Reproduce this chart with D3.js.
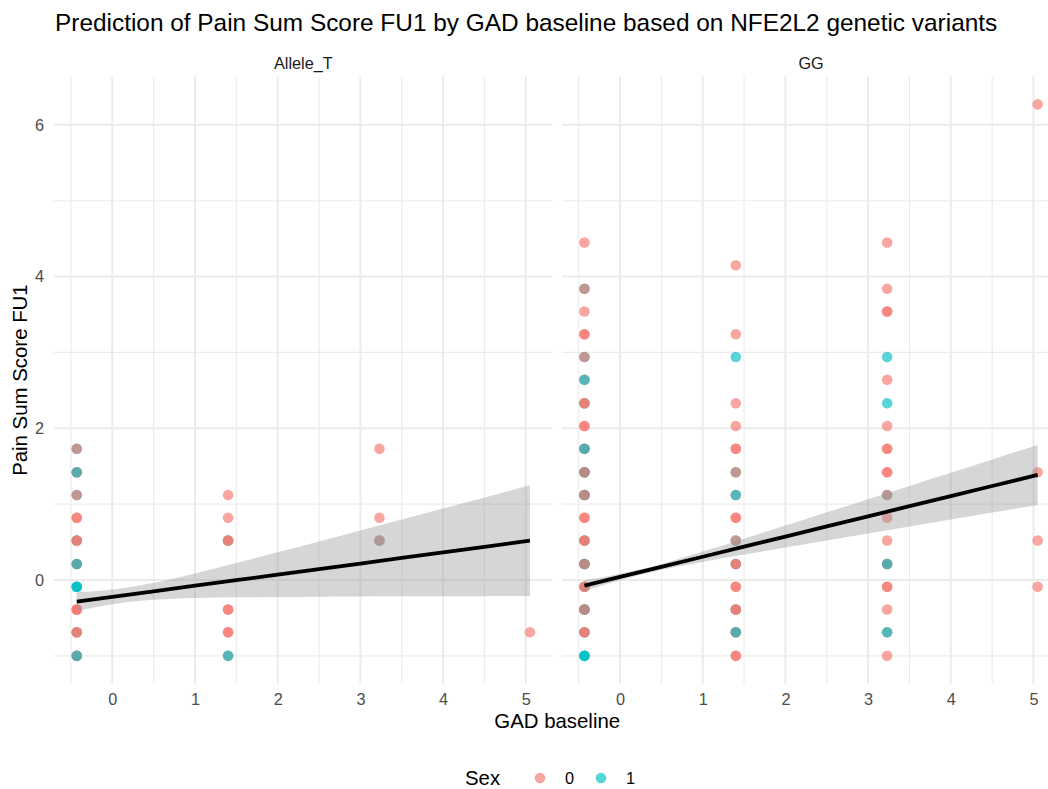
<!DOCTYPE html>
<html>
<head>
<meta charset="utf-8">
<script src="https://cdn.jsdelivr.net/npm/d3@7"></script>
<style>
  body { margin: 0; background: #fff; }
  svg { font-family: "Liberation Sans", Arial, Helvetica, sans-serif; }
</style>
</head>
<body>
<script>
// points per facet: [GAD baseline, Pain Sum Score FU1, draw order of sex codes at that spot]
var alleleT = [
  [-0.43, 1.73, "10"], [-0.43, 1.42, "001"], [-0.43, 1.12, "10"], [-0.43, 0.82, "00"],
  [-0.43, 0.52, "100"], [-0.43, 0.21, "001"], [-0.43, -0.09, "111"], [-0.43, -0.39, "000"],
  [-0.43, -0.69, "100"], [-0.43, -1.0, "001"],
  [1.40, 1.12, "0"], [1.40, 0.82, "0"], [1.40, 0.52, "100"], [1.40, -0.39, "00"],
  [1.40, -0.69, "00"], [1.40, -1.0, "01"],
  [3.23, 1.73, "0"], [3.23, 0.82, "0"], [3.23, 0.52, "10"],
  [5.05, -0.69, "0"]
];
var gg = [
  [-0.43, 4.45, "0"], [-0.43, 3.84, "10"], [-0.43, 3.54, "0"], [-0.43, 3.24, "00"],
  [-0.43, 2.94, "10"], [-0.43, 2.64, "01"], [-0.43, 2.33, "100"], [-0.43, 2.03, "00"],
  [-0.43, 1.73, "001"], [-0.43, 1.42, "1010"], [-0.43, 1.12, "1010"], [-0.43, 0.82, "00"],
  [-0.43, 0.52, "100"], [-0.43, 0.21, "1010"], [-0.43, -0.09, "100"], [-0.43, -0.39, "1010"],
  [-0.43, -0.69, "100"], [-0.43, -1.0, "111"],
  [1.40, 4.15, "0"], [1.40, 3.24, "0"], [1.40, 2.94, "1"], [1.40, 2.33, "0"],
  [1.40, 2.03, "0"], [1.40, 1.73, "00"], [1.40, 1.42, "10"], [1.40, 1.12, "01"],
  [1.40, 0.82, "00"], [1.40, 0.52, "10"], [1.40, 0.21, "100"], [1.40, -0.09, "00"],
  [1.40, -0.39, "100"], [1.40, -0.69, "001"], [1.40, -1.0, "00"],
  [3.23, 4.45, "0"], [3.23, 3.84, "0"], [3.23, 3.54, "00"], [3.23, 2.94, "1"],
  [3.23, 2.64, "0"], [3.23, 2.33, "1"], [3.23, 2.03, "0"], [3.23, 1.73, "00"],
  [3.23, 1.42, "00"], [3.23, 1.12, "10"], [3.23, 0.82, "0"], [3.23, 0.52, "0"],
  [3.23, 0.21, "001"], [3.23, -0.09, "00"], [3.23, -0.39, "0"], [3.23, -0.69, "01"],
  [3.23, -1.0, "0"],
  [5.05, 6.27, "0"], [5.05, 1.42, "0"], [5.05, 0.52, "0"], [5.05, -0.09, "0"]
];

// lm smooth
var fitX = [-0.43, 0, 0.5, 1, 1.5, 2, 2.5, 3, 3.5, 4, 4.5, 5.05];
var alleleFit = [-0.286, -0.223, -0.150, -0.076, -0.003, 0.070, 0.144, 0.217, 0.290, 0.364, 0.437, 0.518];
var alleleLo = [-0.409, -0.319, -0.262, -0.238, -0.229, -0.224, -0.220, -0.218, -0.216, -0.214, -0.213, -0.212];
var alleleHi = [-0.163, -0.127, -0.038, 0.086, 0.223, 0.364, 0.508, 0.652, 0.796, 0.942, 1.087, 1.248];
var ggFit = [-0.075, 0.040, 0.173, 0.306, 0.440, 0.572, 0.706, 0.839, 0.973, 1.106, 1.239, 1.385];
var ggLo = [-0.145, -0.003, 0.134, 0.238, 0.335, 0.427, 0.520, 0.613, 0.706, 0.798, 0.889, 0.990];
var ggHi = [-0.005, 0.083, 0.212, 0.374, 0.545, 0.717, 0.892, 1.065, 1.240, 1.414, 1.589, 1.780];

var xMajor = [0, 1, 2, 3, 4, 5];
var xMinor = [-0.5, 0.5, 1.5, 2.5, 3.5, 4.5];
var yMajor = [0, 2, 4, 6];
var yMinor = [-1, 1, 3, 5];
var sexLevels = ["0", "1"];
var sexColors = ["#F8766D", "#00BFC4"];

var W = 1048, H = 789;
var panelW = 498.5;
var panelTop = 76.8, panelBottom = 683.4;
var panelLefts = [54.1, 561.8];
var ptR = 5.3, ptAlpha = 0.65;

var svg = d3.select("body").append("svg")
    .attr("width", W)
    .attr("height", H);

// shared scales with 5% expansion, like ggplot
var allPts = alleleT.concat(gg);
var xExt = d3.extent(allPts, d => d[0]);
var yExt = d3.extent(allPts, d => d[1]);
var xPad = (xExt[1] - xExt[0]) * 0.05, yPad = (yExt[1] - yExt[0]) * 0.05;
var x = d3.scaleLinear().domain([xExt[0] - xPad, xExt[1] + xPad]).range([0, panelW]);
var y = d3.scaleLinear().domain([yExt[0] - yPad, yExt[1] + yPad]).range([panelBottom, panelTop]);

var panels = [
    { name: "Allele_T", pts: alleleT, fit: alleleFit, lo: alleleLo, hi: alleleHi },
    { name: "GG", pts: gg, fit: ggFit, lo: ggLo, hi: ggHi }
];

panels.forEach(function (p, i) {
    var g = svg.append("g").attr("transform", "translate(" + panelLefts[i] + ",0)");

    // grid
    g.selectAll(".vmin").data(xMinor).join("line")
        .attr("x1", d => x(d)).attr("x2", d => x(d))
        .attr("y1", panelTop).attr("y2", panelBottom)
        .attr("stroke", "#ebebeb").attr("stroke-width", 1.1);
    g.selectAll(".hmin").data(yMinor).join("line")
        .attr("x1", 0).attr("x2", panelW)
        .attr("y1", d => y(d)).attr("y2", d => y(d))
        .attr("stroke", "#ebebeb").attr("stroke-width", 1.1);
    g.selectAll(".vmaj").data(xMajor).join("line")
        .attr("x1", d => x(d)).attr("x2", d => x(d))
        .attr("y1", panelTop).attr("y2", panelBottom)
        .attr("stroke", "#ebebeb").attr("stroke-width", 2);
    g.selectAll(".hmaj").data(yMajor).join("line")
        .attr("x1", 0).attr("x2", panelW)
        .attr("y1", d => y(d)).attr("y2", d => y(d))
        .attr("stroke", "#ebebeb").attr("stroke-width", 2);

    // points, one circle per observation in drawing order
    var obs = [];
    p.pts.forEach(function (d) {
        d[2].split("").forEach(function (s) { obs.push({ gad: d[0], pain: d[1], sex: +s }); });
    });
    g.append("g").selectAll("circle").data(obs).join("circle")
        .attr("cx", d => x(d.gad))
        .attr("cy", d => y(d.pain))
        .attr("r", ptR)
        .attr("fill", d => sexColors[d.sex])
        .attr("fill-opacity", ptAlpha);

    // confidence band + fit line
    var band = d3.area()
        .x((d, j) => x(fitX[j]))
        .y0((d, j) => y(p.lo[j]))
        .y1((d, j) => y(p.hi[j]))
        .curve(d3.curveMonotoneX);
    g.append("path").attr("d", band(fitX))
        .attr("fill", "#999999").attr("fill-opacity", 0.4);
    var line = d3.line()
        .x((d, j) => x(fitX[j]))
        .y((d, j) => y(p.fit[j]));
    g.append("path").attr("d", line(fitX))
        .attr("fill", "none").attr("stroke", "#000").attr("stroke-width", 3.8);

    // x axis labels
    var xa = g.append("g").attr("transform", "translate(0," + panelBottom + ")")
        .call(d3.axisBottom(x).tickValues(xMajor).tickSize(0).tickPadding(10).tickFormat(d3.format("d")));
    xa.select(".domain").remove();
    xa.selectAll("text").attr("font-size", 16.3).attr("fill", "#4d4d4d").attr("font-family", null);

    if (i === 0) {
        var ya = g.append("g")
            .call(d3.axisLeft(y).tickValues(yMajor).tickSize(0).tickPadding(10).tickFormat(d3.format("d")));
        ya.select(".domain").remove();
        ya.selectAll("text").attr("font-size", 16.3).attr("fill", "#4d4d4d").attr("font-family", null);
    }

    // strip
    g.append("text")
        .attr("x", panelW / 2).attr("y", 69)
        .attr("text-anchor", "middle")
        .attr("font-size", 16.3).attr("fill", "#1a1a1a")
        .text(p.name);
});

// titles
svg.append("text")
    .attr("x", 55).attr("y", 31)
    .attr("font-size", 24.4).attr("fill", "#000")
    .text("Prediction of Pain Sum Score FU1 by GAD baseline based on NFE2L2 genetic variants");
svg.append("text")
    .attr("x", (panelLefts[0] + panelLefts[1] + panelW) / 2).attr("y", 728)
    .attr("text-anchor", "middle")
    .attr("font-size", 20.4).attr("fill", "#000")
    .text("GAD baseline");
svg.append("text")
    .attr("transform", "translate(27.3," + (panelTop + panelBottom) / 2 + ") rotate(-90)")
    .attr("text-anchor", "middle")
    .attr("font-size", 20.4).attr("fill", "#000")
    .text("Pain Sum Score FU1");

// legend
var legend = svg.append("g");
legend.append("text")
    .attr("x", 465).attr("y", 785.3)
    .attr("font-size", 20.4).attr("fill", "#000")
    .text("Sex");
var keys = legend.selectAll(".key").data(sexLevels).join("g")
    .attr("transform", (d, i) => "translate(" + (540 + i * 61) + ",778)");
keys.append("circle")
    .attr("r", ptR)
    .attr("fill", (d, i) => sexColors[i])
    .attr("fill-opacity", ptAlpha);
keys.append("text")
    .attr("x", 25).attr("y", 5.8)
    .attr("font-size", 16.3).attr("fill", "#000")
    .text(d => d);
</script>
</body>
</html>
